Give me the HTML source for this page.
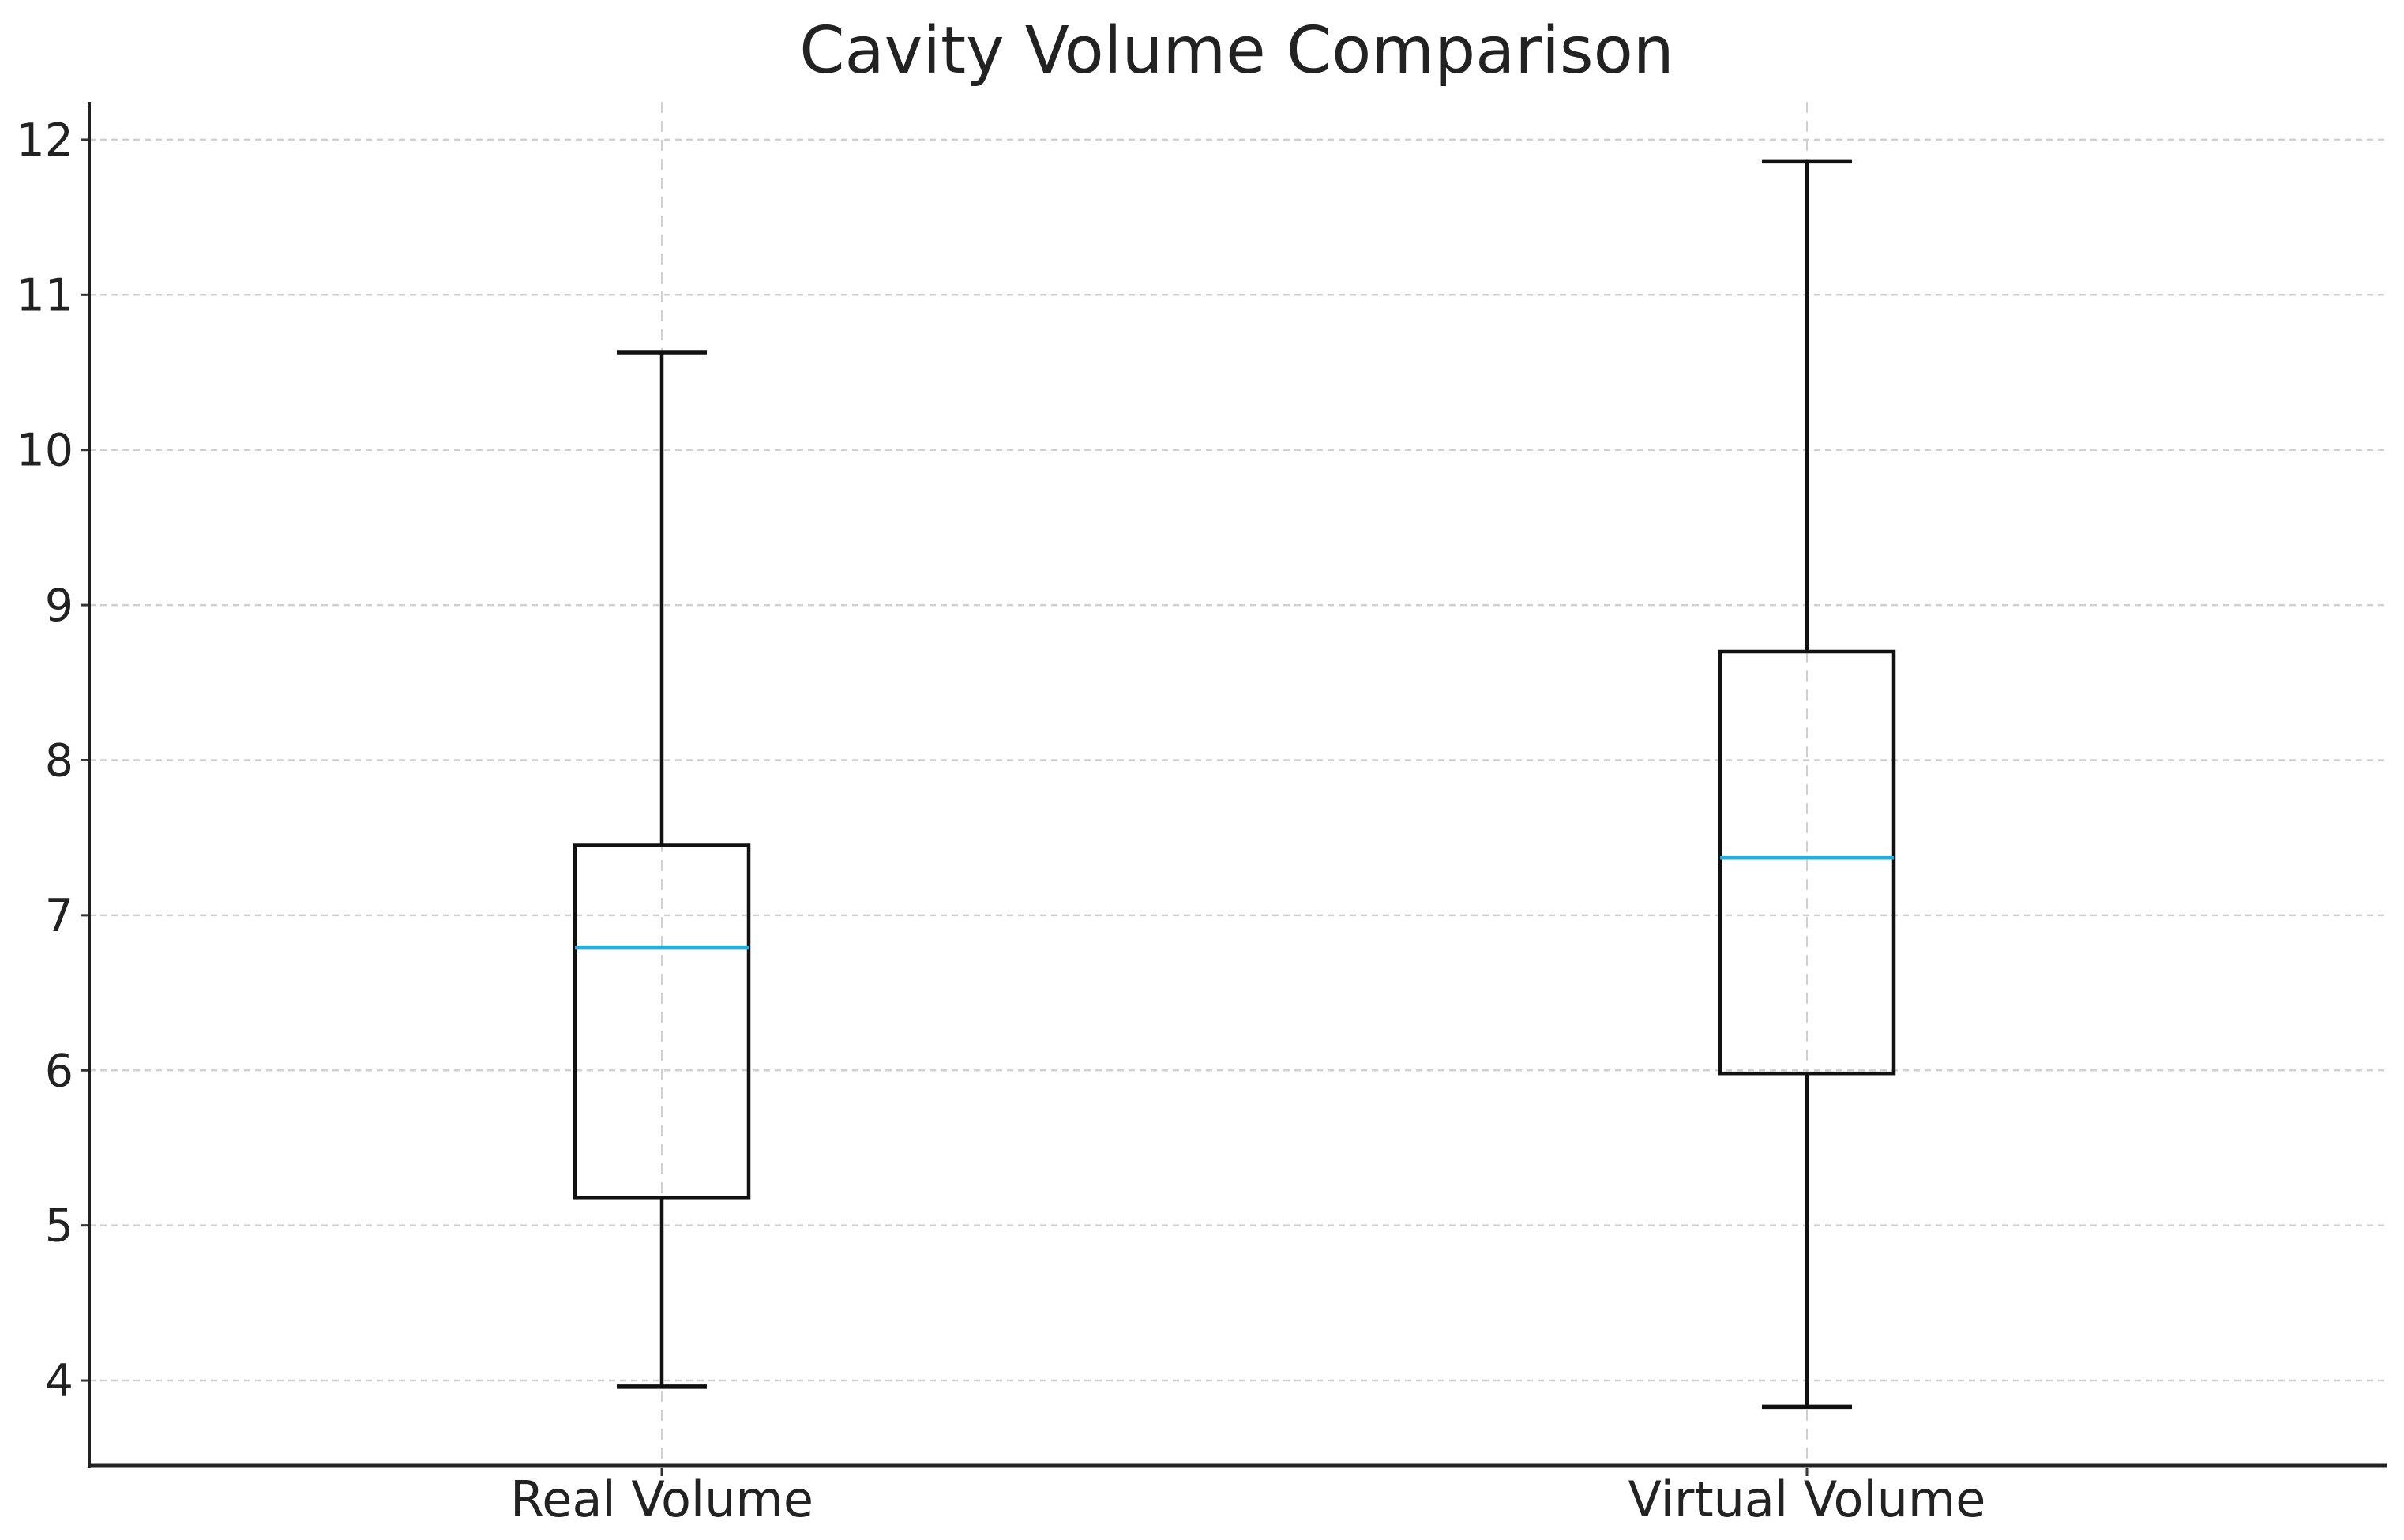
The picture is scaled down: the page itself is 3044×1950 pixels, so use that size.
<!DOCTYPE html>
<html><head><meta charset="utf-8">
<style>
html,body{margin:0;padding:0;background:#fff;}
svg{display:block;font-family:"DejaVu Sans","Liberation Sans",sans-serif;}
</style></head>
<body>
<svg id="chart" width="3044" height="1950" viewBox="0 0 3044 1950" xmlns="http://www.w3.org/2000/svg">
<text x="1566" y="92" text-anchor="middle" font-size="82" fill="#222">Cavity Volume Comparison</text>
<g id="grid"></g>
<g id="marks"></g>
<g id="axes"></g>
</svg>
<script>
const categories = ["Real Volume", "Virtual Volume"];
const whiskerLow = [3.96, 3.83];
const q1Values = [5.18, 5.98];
const medians = [6.79, 7.37];
const q3Values = [7.45, 8.70];
const whiskerHigh = [10.63, 11.86];
const yTicks = [4, 5, 6, 7, 8, 9, 10, 11, 12];

const NS = "http://www.w3.org/2000/svg";
const L = 113, R = 3023, T = 129, B = 1859;
const yMin = 3.435, yMax = 12.244;
function y(v){ return B - (v - yMin) / (yMax - yMin) * (B - T); }
const catPos = [838, 2288];
function x(i){ return catPos[0] + i * (catPos[1] - catPos[0]); }
const boxHalf = 110, capHalf = 57;

function mk(tag, attrs, parent){
  const e = document.createElementNS(NS, tag);
  for (const k in attrs) e.setAttribute(k, attrs[k]);
  parent.appendChild(e);
  return e;
}
const grid = document.getElementById('grid');
const marks = document.getElementById('marks');
const axes = document.getElementById('axes');

yTicks.forEach(t => {
  const g = mk('line', {x1:L, x2:R, y1:y(t), y2:y(t), stroke:'#d0d0d0', 'stroke-width':2.5, 'stroke-dasharray':'8,6'}, grid);
  
  
  const tk = mk('line', {x1:L-10, x2:L, y1:y(t), y2:y(t), stroke:'#333', 'stroke-width':3}, axes);
  
  
  const lb = mk('text', {x:L-20, y:y(t)+20, 'text-anchor':'end', 'font-size':57, fill:'#222'}, axes);
  lb.textContent = String(t);
  
  
});

categories.forEach((c, i) => {
  const cx = x(i);
  const vg = mk('line', {x1:cx, x2:cx, y1:T, y2:B, stroke:'#d0d0d0', 'stroke-width':2, 'stroke-dasharray':'14,10'}, grid);
  
  

  const g = mk('g', {}, marks);
  
  
  const w1 = mk('line', {x1:cx, x2:cx, y1:y(whiskerHigh[i]), y2:y(q3Values[i]), stroke:'#111', 'stroke-width':4.5}, g);
  
  
  const w2 = mk('line', {x1:cx, x2:cx, y1:y(q1Values[i]), y2:y(whiskerLow[i]), stroke:'#111', 'stroke-width':4.5}, g);
  
  
  const c1 = mk('line', {x1:cx-capHalf, x2:cx+capHalf, y1:y(whiskerHigh[i]), y2:y(whiskerHigh[i]), stroke:'#111', 'stroke-width':5.5}, g);
  
  
  const c2 = mk('line', {x1:cx-capHalf, x2:cx+capHalf, y1:y(whiskerLow[i]), y2:y(whiskerLow[i]), stroke:'#111', 'stroke-width':5.5}, g);
  
  
  const rect = mk('rect', {x:cx-boxHalf, y:y(q3Values[i]), width:2*boxHalf, height:y(q1Values[i])-y(q3Values[i]), fill:'none', stroke:'#111', 'stroke-width':4.5}, g);
  
  
  const md = mk('line', {x1:cx-boxHalf, x2:cx+boxHalf, y1:y(medians[i]), y2:y(medians[i]), stroke:'#1ab0e8', 'stroke-width':4.5}, g);
  
  

  const lb = mk('text', {x:cx, y:1920, 'text-anchor':'middle', 'font-size':62, fill:'#222'}, axes);
  lb.textContent = c;
  
  
  const xt = mk('line', {x1:cx, x2:cx, y1:B, y2:B+10, stroke:'#333', 'stroke-width':3}, axes);
  
  
});

const ya = mk('line', {x1:L, x2:L, y1:T, y2:B, stroke:'#222', 'stroke-width':4}, axes);


const xa = mk('line', {x1:L-2, x2:R, y1:B-3, y2:B-3, stroke:'#222', 'stroke-width':5}, axes);


</script>
</body></html>
